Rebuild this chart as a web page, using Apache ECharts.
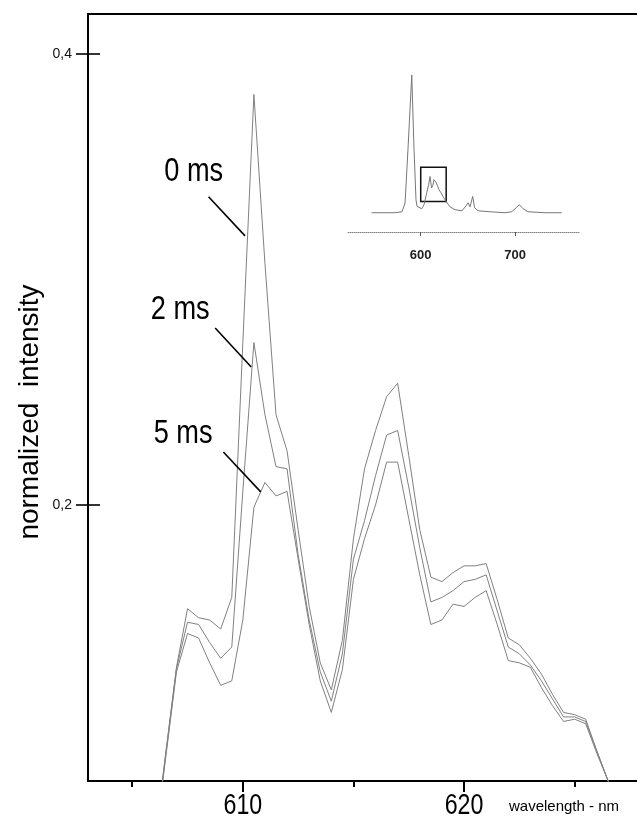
<!DOCTYPE html>
<html><head><meta charset="utf-8">
<script src="https://cdn.jsdelivr.net/npm/echarts@6/dist/echarts.min.js"></script>
<style>html,body{margin:0;padding:0;background:#fff}#c{width:637px;height:823px}</style>
</head><body><div id="c"></div>
<script>
// ---- data ----
const wavelengths = [606.0, 606.5, 607.0, 607.5, 608.0, 608.5, 609.0, 609.5, 610.0, 610.5,
  611.0, 611.5, 612.0, 612.5, 613.0, 613.5, 614.0, 614.5, 615.0, 615.5,
  616.0, 616.5, 617.0, 617.5, 618.0, 618.5, 619.0, 619.5, 620.0, 620.5,
  621.0, 621.5, 622.0, 622.5, 623.0, 623.5, 624.0, 624.5, 625.0, 625.5,
  626.0, 626.5, 627.0, 627.5];
const intensity0ms = [0.049, 0.089, 0.128, 0.154, 0.150, 0.149, 0.145, 0.159, 0.272, 0.382,
  0.307, 0.240, 0.224, 0.189, 0.155, 0.130, 0.118, 0.140, 0.185, 0.216,
  0.233, 0.248, 0.254, 0.222, 0.189, 0.168, 0.166, 0.170, 0.173, 0.173,
  0.174, 0.158, 0.141, 0.138, 0.132, 0.125, 0.116, 0.108, 0.107, 0.105,
  0.091, 0.078, 0.065, 0.052];
const intensity2ms = [0.048, 0.088, 0.1275, 0.148, 0.147, 0.139, 0.132, 0.137, 0.206, 0.272,
  0.240, 0.217, 0.216, 0.178, 0.149, 0.126, 0.113, 0.134, 0.176, 0.193,
  0.213, 0.231, 0.233, 0.208, 0.181, 0.157, 0.159, 0.162, 0.166, 0.167,
  0.169, 0.153, 0.137, 0.134, 0.129, 0.122, 0.114, 0.106, 0.106, 0.104,
  0.091, 0.078, 0.065, 0.052];
const intensity5ms = [0.047, 0.087, 0.126, 0.143, 0.141, 0.130, 0.120, 0.122, 0.149, 0.199,
  0.210, 0.204, 0.206, 0.176, 0.147, 0.122, 0.108, 0.127, 0.167, 0.185,
  0.200, 0.219, 0.219, 0.194, 0.169, 0.147, 0.149, 0.156, 0.155, 0.159,
  0.162, 0.147, 0.131, 0.130, 0.128, 0.119, 0.111, 0.104, 0.105, 0.103,
  0.090, 0.078, 0.065, 0.052];
const seriesNames = ['0 ms', '2 ms', '5 ms'];
const yTicks = [0.2, 0.4];
const xMajorTicks = [610, 620];
const xMinorTicks = [605, 615, 625];

const insetWavelengths = [548.0, 572.7, 580.2, 583.4, 586.5, 590.5, 592.9, 595.0, 596.1, 598.2,
  601.1, 603.5, 606.4, 608.3, 609.9, 611.5, 612.7, 614.1, 616.2, 617.8,
  619.4, 621.5, 623.6, 626.8, 631.1, 636.4, 643.8, 648.1, 650.2, 652.3,
  655.1, 657.1, 660.8, 673.5, 689.4, 696.5, 701.1, 704.6, 708.5, 713.8,
  731.8, 749.5];
const insetIntensity = [0.0, 0.0, 0.007, 0.07, 0.46, 1.0, 0.46, 0.094, 0.046, 0.058,
  0.029, 0.058, 0.145, 0.20, 0.263, 0.18, 0.196, 0.24, 0.22, 0.196,
  0.167, 0.145, 0.118, 0.082, 0.043, 0.022, 0.014, 0.05, 0.072, 0.043,
  0.118, 0.036, 0.014, 0.007, 0.0, 0.007, 0.036, 0.058, 0.029, 0.007,
  0.0, 0.0];
const insetTicks = [600, 700];
const zoomBox = [600, 627, 0.082, 0.331];

// ---- chart ----
const FONT = "'Liberation Sans', Arial, Helvetica, sans-serif";
const chart = echarts.init(document.getElementById('c'), null, {renderer: 'canvas'});
const pair = (xs, ys) => xs.map((x, i) => [x, ys[i]]);

// annotation anchors (data units)
const labelCoords = [[607.78, 0.3477], [607.17, 0.2865], [607.30, 0.2315]];
const pointerCoords = [
  [[608.45, 0.3367], [610.10, 0.3193]],
  [[608.75, 0.2785], [610.38, 0.2612]],
  [[609.12, 0.2235], [610.81, 0.2058]]
];
const mainData = [intensity0ms, intensity2ms, intensity5ms];

const mainSeries = mainData.map((vals, i) => ({
  name: seriesNames[i],
  type: 'line',
  xAxisIndex: 0, yAxisIndex: 0,
  data: pair(wavelengths, vals),
  showSymbol: false, symbol: 'none',
  clip: true,
  lineStyle: {color: '#808080', width: 1},
  z: 2,
  markLine: {
    silent: true, animation: false,
    symbol: ['none', 'none'],
    lineStyle: {color: '#000', width: 1.6, type: 'solid'},
    label: {show: false},
    data: [[{coord: pointerCoords[i][0]}, {coord: pointerCoords[i][1]}]]
  }
}));

const option = {
  animation: false,
  backgroundColor: '#fff',
  grid: [
    {left: 88, top: 14, right: 0, bottom: 42},
    {left: 348, top: 75, width: 232, height: 157}
  ],
  xAxis: [
    {gridIndex: 0, type: 'value', min: 603, max: 627.82,
     axisLine: {show: true, onZero: false, lineStyle: {color: '#000', width: 2}},
     axisTick: {show: true, customValues: xMajorTicks, length: 11, lineStyle: {color: '#000', width: 2}},
     axisLabel: {show: false, customValues: xMajorTicks},
     splitLine: {show: false}},
    {gridIndex: 0, type: 'value', min: 603, max: 627.82, position: 'bottom',
     axisLine: {show: false, onZero: false},
     axisTick: {show: true, customValues: xMinorTicks, length: 6, lineStyle: {color: '#000', width: 2}},
     axisLabel: {show: false}, splitLine: {show: false}},
    {gridIndex: 0, type: 'value', min: 603, max: 627.82, position: 'top',
     axisLine: {show: true, onZero: false, lineStyle: {color: '#000', width: 2}},
     axisTick: {show: false}, axisLabel: {show: false}, splitLine: {show: false}},
    {gridIndex: 1, type: 'value', min: 522.9, max: 768.9,
     axisLine: {show: true, onZero: false, lineStyle: {color: '#888', width: 1, type: 'dotted'}},
     axisTick: {show: true, customValues: insetTicks, length: 4, lineStyle: {color: '#555', width: 1}},
     axisLabel: {customValues: insetTicks, fontSize: 13, fontWeight: 'bold', color: '#222', margin: 17, fontFamily: FONT},
     splitLine: {show: false}}
  ],
  yAxis: [
    {gridIndex: 0, type: 'value', min: 0.0776, max: 0.4177,
     axisLine: {show: true, onZero: false, lineStyle: {color: '#000', width: 2}},
     axisTick: {show: true, customValues: yTicks, length: 12, lineStyle: {color: '#000', width: 1.6}},
     axisLabel: {customValues: yTicks, fontSize: 14, color: '#111', margin: 16, fontFamily: FONT,
                 formatter: v => v.toFixed(1).replace('.', ',')},
     splitLine: {show: false}},
    {gridIndex: 0, type: 'value', min: 0.0776, max: 0.4177, position: 'left',
     axisLine: {show: false, onZero: false},
     axisTick: {show: true, inside: true, customValues: yTicks, length: 12, lineStyle: {color: '#000', width: 1.6}},
     axisLabel: {show: false}, splitLine: {show: false}},
    {gridIndex: 1, type: 'value', min: -0.14, max: 1.0, show: false}
  ],
  series: mainSeries.concat([{
    name: 'inset', type: 'line', xAxisIndex: 3, yAxisIndex: 2,
    data: pair(insetWavelengths, insetIntensity),
    showSymbol: false, symbol: 'none',
    lineStyle: {color: '#777', width: 1},
    markArea: {
      silent: true,
      itemStyle: {color: 'rgba(0,0,0,0)', borderColor: '#111', borderWidth: 1.5},
      data: [[{coord: [zoomBox[0], zoomBox[2]]}, {coord: [zoomBox[1], zoomBox[3]]}]]
    }
  }])
};
chart.setOption(option);

// Narrow (horizontally condensed) texts placed through the axes' own scales
const axisBottomPx = chart.convertToPixel({yAxisIndex: 0}, 0.0776);
const graphics = [
  {type: 'text', x: 30, y: 412, rotation: Math.PI / 2,
   style: {text: 'normalized  intensity', fill: '#000', font: '28px ' + FONT,
           textAlign: 'center', textVerticalAlign: 'middle'}},
  {type: 'text', x: 564, y: axisBottomPx + 26,
   style: {text: 'wavelength - nm', fill: '#000', font: '15px ' + FONT,
           textAlign: 'center', textVerticalAlign: 'middle'}}
];
xMajorTicks.forEach(v => {
  graphics.push({type: 'text', x: chart.convertToPixel({xAxisIndex: 0}, v), y: axisBottomPx + 25,
    scaleX: 0.8,
    style: {text: String(v), fill: '#000', font: '29px ' + FONT,
            textAlign: 'center', textVerticalAlign: 'middle'}});
});
labelCoords.forEach((c, i) => {
  const p = chart.convertToPixel({xAxisIndex: 0, yAxisIndex: 0}, c);
  graphics.push({type: 'text', x: p[0], y: p[1], scaleX: 0.8,
    style: {text: seriesNames[i], fill: '#000', font: '34px ' + FONT,
            textAlign: 'center', textVerticalAlign: 'middle'}});
});
chart.setOption({graphic: graphics});
</script>
</body></html>
